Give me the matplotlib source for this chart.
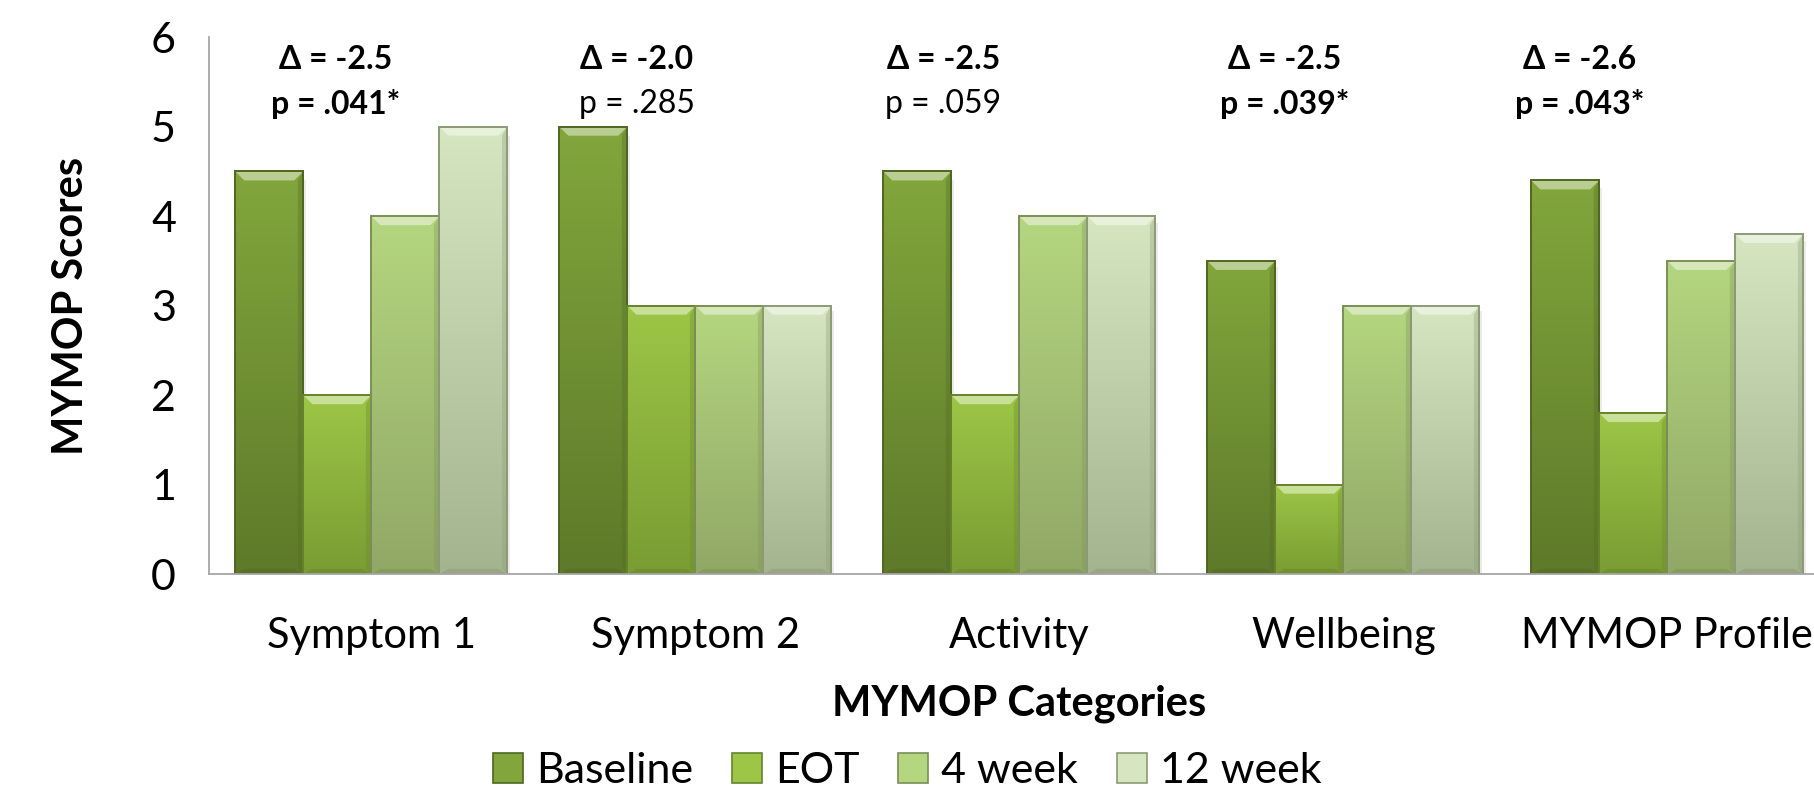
import numpy as np
import matplotlib
matplotlib.use("Agg")
import matplotlib.pyplot as plt
from matplotlib.colors import LinearSegmentedColormap, to_rgb
from matplotlib.patches import Rectangle, Polygon

plt.rcParams['font.family'] = ['Lato', 'DejaVu Sans']

# ---- data ----
categories = ["Symptom 1", "Symptom 2", "Activity", "Wellbeing", "MYMOP Profile"]
series_names = ["Baseline", "EOT", "4 week", "12 week"]
baseline = [4.5, 5.0, 4.5, 3.5, 4.4]
eot = [2.0, 3.0, 2.0, 1.0, 1.8]
week4 = [4.0, 3.0, 4.0, 3.0, 3.5]
week12 = [5.0, 3.0, 4.0, 3.0, 3.8]
deltas = ["-2.5", "-2.0", "-2.5", "-2.5", "-2.6"]
p_values = [".041*", ".285", ".059", ".039*", ".043*"]
significant = [True, False, False, True, True]

# ---- styling ----
top_colors = ["#82A63C", "#9DC646", "#B5D680", "#D6E6C0"]
bottom_colors = ["#5E7A2A", "#7A9C33", "#91A866", "#A4B48E"]
edge_colors = ["#4F6623", "#66832B", "#7A8E56", "#8C9A78"]
label_offsets = [-0.11, -0.18, -0.235, -0.18, -0.27]

fig = plt.figure(figsize=(18.14, 7.92), dpi=100)
ax = fig.add_axes([0.1154, 0.275, 0.893, 0.678])

series = [baseline, eot, week4, week12]
x = np.arange(len(categories))
width = 0.21
bevel_dx = 0.028
bevel_dy = 0.10


def gradient_bar(ax, xc, h, top, bottom, edge):
    x0, x1 = xc - width / 2, xc + width / 2
    rect = Rectangle((x0, 0), width, h, facecolor=top, edgecolor='none', zorder=2)
    ax.add_patch(rect)
    cmap = LinearSegmentedColormap.from_list("g", [bottom, top])
    grad = np.linspace(0, 1, 128).reshape(-1, 1)
    im = ax.imshow(grad, cmap=cmap, aspect='auto', origin='lower',
                   extent=(x0, x1, 0, h), zorder=2.1, interpolation='bicubic')
    im.set_clip_path(rect)
    # bevel: light top, darker bottom and sides
    tc = np.array(to_rgb(top))
    light = np.clip(tc + (1 - tc) * 0.45, 0, 1)
    ax.add_patch(Polygon([(x0, h), (x1, h), (x1 - bevel_dx, h - bevel_dy),
                          (x0 + bevel_dx, h - bevel_dy)], closed=True,
                         facecolor=light, edgecolor='none', zorder=2.2))
    bc = np.array(to_rgb(bottom)) * 0.88
    ax.add_patch(Polygon([(x0, 0), (x1, 0), (x1 - bevel_dx, bevel_dy * 0.6),
                          (x0 + bevel_dx, bevel_dy * 0.6)], closed=True,
                         facecolor=bc, edgecolor='none', alpha=0.6, zorder=2.2))
    ax.add_patch(Polygon([(x1, 0), (x1, h), (x1 - bevel_dx * 0.6, h - bevel_dy),
                          (x1 - bevel_dx * 0.6, bevel_dy * 0.6)], closed=True,
                         facecolor=bc, edgecolor='none', alpha=0.35, zorder=2.2))
    ax.add_patch(Rectangle((x0, 0), width, h, facecolor='none', edgecolor=edge,
                           linewidth=1.4, zorder=2.3))
    # soft shadow to the right
    ax.add_patch(Rectangle((x1, 0), 0.008, h * 0.98, facecolor='#000000',
                           alpha=0.08, edgecolor='none', zorder=1.9))


for i, vals in enumerate(series):
    for j, v in enumerate(vals):
        gradient_bar(ax, x[j] + (i - 1.5) * width, v,
                     top_colors[i], bottom_colors[i], edge_colors[i])

ax.set_xlim(-0.5, len(categories) - 0.5)
ax.set_ylim(0, 6)
ax.set_yticks(range(0, 7))
ax.set_xticks(x)
ax.set_xticklabels(categories)
ax.tick_params(axis='both', length=0, labelsize=31)
ax.tick_params(axis='x', labelsize=30, pad=31)
ax.tick_params(axis='y', pad=24)
for side in ['top', 'right']:
    ax.spines[side].set_visible(False)
for side in ['left', 'bottom']:
    ax.spines[side].set_color('#A6A6A6')
    ax.spines[side].set_linewidth(1.3)
ax.spines['left'].set_zorder(3)

ax.set_xlabel("MYMOP Categories", fontsize=30, fontweight='bold', labelpad=21)
ax.set_ylabel("MYMOP Scores", fontsize=30, fontweight='bold', labelpad=44)

for j in range(len(categories)):
    xt = x[j] + label_offsets[j]
    ax.text(xt, 5.75, "\u0394 = " + deltas[j], ha='center', va='center',
            fontsize=23, fontweight='bold', family=['Lato', 'DejaVu Sans'])
    ax.text(xt, 5.25, "p = " + p_values[j], ha='center', va='center',
            fontsize=23, fontweight='bold' if significant[j] else 'normal')

handles = [Rectangle((0, 0), 1, 1, facecolor=top_colors[i], edgecolor=edge_colors[i],
                     linewidth=1.2) for i in range(4)]
fig.legend(handles, series_names, loc='center', bbox_to_anchor=(0.5, 0.026),
           ncol=4, frameon=False, fontsize=31, handlelength=0.7, handleheight=0.7,
           handletextpad=0.3, columnspacing=0.9)

fig.savefig("out.png", dpi=100)
